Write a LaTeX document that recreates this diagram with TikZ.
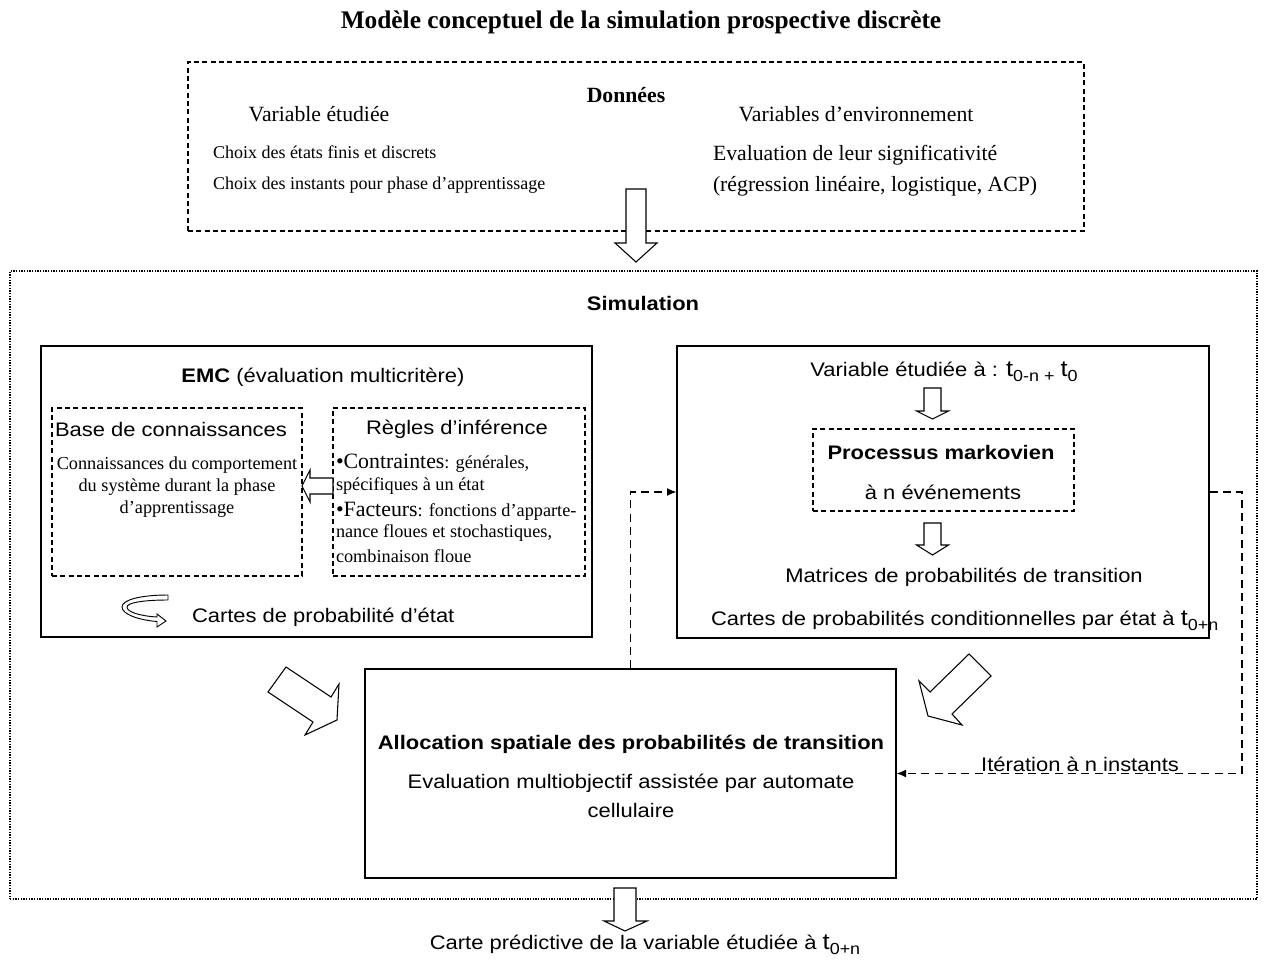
\documentclass[tikz,border=0pt]{standalone}
\usepackage{fontspec}
\setmainfont{Liberation Serif}
\setsansfont{Liberation Sans}[FakeStretch=1.12]
\usetikzlibrary{fit,arrows.meta}
\newcommand\myfs[1]{\fontsize{#1}{#1}\selectfont}
\newcommand\tsubs[1]{{\myfs{17}t}\raisebox{-0.5ex}{\myfs{12}#1}}
\begin{document}
\begin{tikzpicture}[x=0.75pt,y=-0.75pt,
  box/.style={draw, line width=1pt, inner sep=0pt},
  dbox/.style={draw, line width=0.8pt, dash pattern=on 3.75pt off 2.5pt, inner sep=0pt},
  simbox/.style={draw, line width=0.8pt, dash pattern=on 0.9pt off 1.1pt, inner sep=0pt},
  txt/.style={inner sep=0pt, outer sep=0pt},
  stxt/.style={txt, font={\sffamily\myfs{14.7}}},
  sbtxt/.style={txt, font={\sffamily\bfseries\myfs{14.7}}},
  rtxt/.style={txt, font={\myfs{16.3}}},
  smtxt/.style={txt, font={\myfs{13.7}}},
  blk/.style={draw, fill=white, line width=0.8pt, line join=miter},
  link/.style={draw, line width=0.9pt, dash pattern=on 6pt off 4pt, -{Latex[length=7pt,width=6pt]}},
]
\useasboundingbox (0,0) rectangle (1266,962);
\fill[white] (0,0) rectangle (1266,962);

% title
\node[txt, font={\bfseries\myfs{19}}] (title) at (641,22) {Modèle conceptuel de la simulation prospective discrète};

% Donnees
\node[dbox, fit={(188,62)(1084,231)}] (data) {};
\node[txt, font={\bfseries\myfs{16.3}}] (datat) at (626,95) {Données};
\node[rtxt] (vet) at (319,114) {Variable étudiée};
\node[rtxt] (venv) at (856,114) {Variables d’environnement};
\node[txt, font={\myfs{13.5}}, anchor=west] (ch1) at (213,152) {Choix des états finis et discrets};
\node[txt, font={\myfs{13.5}}, anchor=west] (ch2) at (213,185) {Choix des instants pour phase d’apprentissage};
\node[rtxt, anchor=west] (ev1) at (713,155) {Evaluation de leur significativité};
\node[rtxt, anchor=west] (ev2) at (713,186) {(régression linéaire, logistique, ACP)};

% arrow data -> simulation
\draw[blk] (626,189) -- (646,189) -- (646,243) -- (657,243) -- (636,262) -- (615,243) -- (626,243) -- cycle;

% Simulation
\node[simbox, fit={(10,271)(1257,899)}] (sim) {};
\node[sbtxt] (simt) at (643,303) {Simulation};

% EMC
\node[box, fit={(41,346)(592,637)}] (emc) {};
\node[stxt] (emct) at (323,377) {\textbf{EMC} (évaluation multicritère)};
\node[dbox, fit={(52,408)(302,576)}] (base) {};
\node[stxt] (baset) at (171,429) {Base de connaissances};
\node[smtxt] (b1) at (177,465) {Connaissances du comportement};
\node[smtxt] (b2) at (177,487) {du système durant la phase};
\node[smtxt] (b3) at (177,509) {d’apprentissage};
\node[dbox, fit={(333,408)(585,576)}] (regles) {};
\node[stxt] (reglest) at (457,429) {Règles d’inférence};
\node[smtxt, anchor=west] (r1) at (336,463) {{\myfs{16.4}•Contraintes}: générales,};
\node[smtxt, anchor=west] (r2) at (336,486) {spécifiques à un état};
\node[smtxt, anchor=west] (r3) at (336,511) {{\myfs{16.4}•Facteurs}: fonctions d’apparte-};
\node[smtxt, anchor=west] (r4) at (336,533) {nance floues et stochastiques,};
\node[smtxt, anchor=west] (r5) at (336,556) {combinaison floue};
% left block arrow regles -> base
\draw[blk] (333,478) -- (310,478) -- (310,470) -- (302,486) -- (310,502) -- (310,494) -- (333,494) -- cycle;
% curved arrow
\draw[blk, line width=0.7pt] (168,595) .. controls (140,595) and (122,600) .. (122,607)
  .. controls (122,614) and (138,620) .. (157,621.5) -- (157,627) -- (166,621) -- (157,614) -- (157,617)
  .. controls (140,616) and (127,612) .. (127,607) .. controls (127,603) and (142,600) .. (168,600) -- cycle;
\node[stxt, anchor=west] (cpe) at (192,617) {Cartes de probabilité d’état};

% right box
\node[box, fit={(677,346)(1209,638)}] (rbox) {};
\node[stxt] (vea) at (944,372) {Variable étudiée à : \tsubs{0-n +} \tsubs{0}};
\draw[blk] (924,388) -- (941,388) -- (941,411) -- (948.5,411) -- (932.5,419) -- (916.5,411) -- (924,411) -- cycle;
\node[dbox, fit={(813,429)(1074,511)}] (proc) {};
\node[sbtxt] (proct) at (941,452) {Processus markovien};
\node[stxt] (procn) at (943,492) {à n événements};
\draw[blk] (924,523) -- (941,523) -- (941,545) -- (948.5,545) -- (932.5,555) -- (916.5,545) -- (924,545) -- cycle;
\node[stxt] (mat) at (964,577) {Matrices de probabilités de transition};
\node[stxt, anchor=west] (cond) at (711,621) {Cartes de probabilités conditionnelles par état à \tsubs{0+n}};

% allocation
\node[box, fit={(365,669)(896,878)}] (alloc) {};
\node[sbtxt] (allt) at (631,744) {Allocation spatiale des probabilités de transition};
\node[stxt] (all2) at (631,783) {Evaluation multiobjectif assistée par automate};
\node[stxt] (all3) at (631,810) {cellulaire};

% big block arrows
\draw[blk] (286,667) -- (331,697) -- (339,684) -- (337,720) -- (305,735) -- (313,722) -- (268,692) -- cycle;
\draw[blk] (969,654) -- (991,676) -- (952,714) -- (962,725) -- (928,716) -- (919,681) -- (930,692) -- cycle;

% dashed connectors
\coordinate (cr) at (1242,600);
\draw[link] (alloc.north) |- (rbox.west);
\draw[link] (rbox.east) -| (cr) |- (alloc.east);
\node[stxt] (iter) at (1080,764) {Itération à n instants};

% output arrow
\draw[blk] (614,888) -- (636,888) -- (636,921) -- (647,921) -- (625,931) -- (604,921) -- (614,921) -- cycle;
\node[stxt] (pred) at (645,945) {Carte prédictive de la variable étudiée à \tsubs{0+n}};
\end{tikzpicture}
\end{document}
